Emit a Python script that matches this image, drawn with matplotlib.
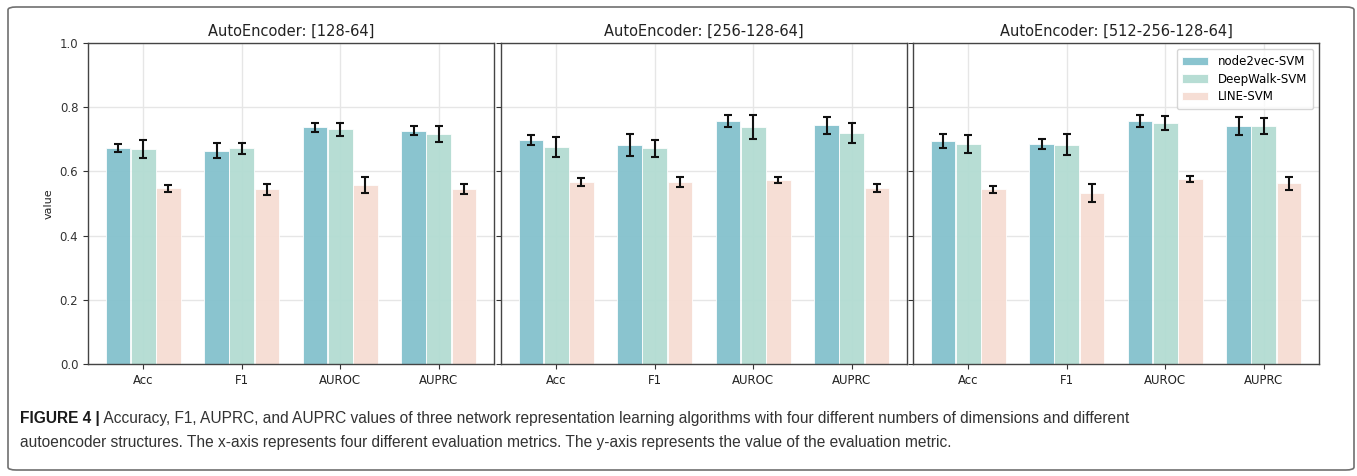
import numpy as np
import matplotlib
matplotlib.use('Agg')
import matplotlib.pyplot as plt
from matplotlib import font_manager
from matplotlib.patches import FancyBboxPatch

# ---- data ----
metrics = ['Acc', 'F1', 'AUROC', 'AUPRC']
methods = ['node2vec-SVM', 'DeepWalk-SVM', 'LINE-SVM']
titles = ['AutoEncoder: [128-64]', 'AutoEncoder: [256-128-64]', 'AutoEncoder: [512-256-128-64]']

# panel 1 : [128-64]
p1_node2vec = [0.672, 0.664, 0.737, 0.727]
p1_deepwalk = [0.669, 0.672, 0.731, 0.717]
p1_line = [0.547, 0.544, 0.558, 0.545]
p1_node2vec_err = [0.012, 0.023, 0.014, 0.013]
p1_deepwalk_err = [0.028, 0.018, 0.021, 0.024]
p1_line_err = [0.012, 0.018, 0.024, 0.015]

# panel 2 : [256-128-64]
p2_node2vec = [0.698, 0.682, 0.757, 0.743]
p2_deepwalk = [0.675, 0.672, 0.738, 0.721]
p2_line = [0.566, 0.566, 0.573, 0.549]
p2_node2vec_err = [0.015, 0.034, 0.020, 0.025]
p2_deepwalk_err = [0.031, 0.027, 0.038, 0.031]
p2_line_err = [0.012, 0.016, 0.008, 0.012]

# panel 3 : [512-256-128-64]
p3_node2vec = [0.695, 0.685, 0.758, 0.741]
p3_deepwalk = [0.685, 0.683, 0.750, 0.741]
p3_line = [0.545, 0.532, 0.576, 0.563]
p3_node2vec_err = [0.023, 0.016, 0.019, 0.029]
p3_deepwalk_err = [0.029, 0.033, 0.022, 0.026]
p3_line_err = [0.011, 0.028, 0.009, 0.020]

caption_head = 'FIGURE 4 |'
caption_line1 = (' Accuracy, F1, AUPRC, and AUPRC values of three network representation learning '
                 'algorithms with four different numbers of dimensions and different')
caption_line2 = ('autoencoder structures. The x-axis represents four different evaluation metrics. '
                 'The y-axis represents the value of the evaluation metric.')

colors = ['#84c1cd', '#b3dcd2', '#f6ddd3']

panels = [
    ([p1_node2vec, p1_deepwalk, p1_line], [p1_node2vec_err, p1_deepwalk_err, p1_line_err]),
    ([p2_node2vec, p2_deepwalk, p2_line], [p2_node2vec_err, p2_deepwalk_err, p2_line_err]),
    ([p3_node2vec, p3_deepwalk, p3_line], [p3_node2vec_err, p3_deepwalk_err, p3_line_err]),
]

W, H = 1357, 476
fig = plt.figure(figsize=(W / 100, H / 100), dpi=100)

# outer frame
frame = FancyBboxPatch((8 / W, 6 / H), 1346 / W, 463 / H,
                       boxstyle='round,pad=0,rounding_size=0.006',
                       transform=fig.transFigure, fill=False,
                       edgecolor='#707070', linewidth=1.2)
fig.patches.append(frame)

ax_left = [88, 501, 913]
ax_w = 406
ax_top, ax_bot = 43, 364
x = np.arange(len(metrics))
bw = 0.25
off = 0.255

axes = []
for i, (vals, errs) in enumerate(panels):
    ax = fig.add_axes([ax_left[i] / W, (H - ax_bot) / H, ax_w / W, (ax_bot - ax_top) / H])
    ax.set_axisbelow(True)
    ax.grid(True, color='#e6e6e6', linewidth=1.0)
    for j in range(3):
        ax.bar(x + (j - 1) * off, vals[j], bw, color=colors[j], alpha=0.95,
               edgecolor='white', linewidth=0.6, label=methods[j])
        ax.errorbar(x + (j - 1) * off, vals[j], yerr=errs[j], fmt='none',
                    ecolor='#111111', elinewidth=1.5, capsize=3, capthick=1.5)
    ax.set_xlim(-0.56, 3.56)
    ax.set_ylim(0, 1.0)
    ax.set_xticks(x)
    ax.set_xticklabels(metrics, fontsize=8.5, color='#222222')
    ax.set_yticks([0.0, 0.2, 0.4, 0.6, 0.8, 1.0])
    ax.tick_params(axis='both', labelsize=8.5, colors='#333333', length=3.5)
    ax.tick_params(axis='x', labelcolor='#222222')
    if i == 0:
        ax.set_ylabel('value', fontsize=8, color='#222222')
    else:
        ax.set_yticklabels([])
    for s in ax.spines.values():
        s.set_color('#444444')
        s.set_linewidth(1.0)
    ax.set_title(titles[i], fontsize=10.5, color='#222222', pad=5)
    axes.append(ax)

axes[2].legend(loc='upper right', fontsize=8.5, frameon=True, edgecolor='#cccccc',
               handlelength=2.2, borderpad=0.5, labelspacing=0.4)

# caption, narrow sans; size chosen so the first line ends where the reference's does
names = {f.name for f in font_manager.fontManager.ttflist}
cap_font = 'Liberation Sans' if 'Liberation Sans' in names else 'DejaVu Sans'
fig.canvas.draw()
r = fig.canvas.get_renderer()
fs = 12.5
t0 = fig.text(20 / W, 1 - 418 / H, caption_head, fontsize=fs, fontweight='bold',
              family=cap_font, color='#1a1a1a', va='center', ha='left')
t1 = fig.text(0, 1 - 418 / H, caption_line1, fontsize=fs, family=cap_font,
              color='#333333', va='center', ha='left')
w_total = t0.get_window_extent(renderer=r).width + t1.get_window_extent(renderer=r).width
fs = fs * (1133 - 20) / w_total
t0.set_fontsize(fs)
t1.set_fontsize(fs)
bb = t0.get_window_extent(renderer=r)
t1.set_x(bb.x1 / W)
fig.text(20 / W, 1 - 443 / H, caption_line2, fontsize=fs, family=cap_font,
         color='#333333', va='center', ha='left')

fig.savefig('out.png', dpi=100)
